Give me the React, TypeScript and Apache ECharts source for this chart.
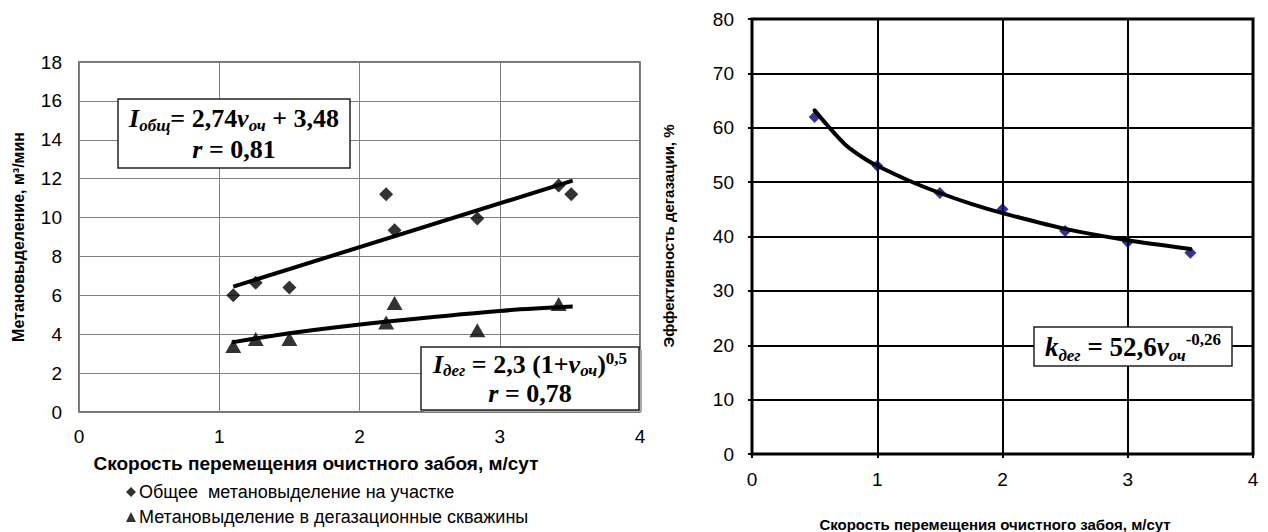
import React, { useEffect, useRef } from "react";
import * as echarts from "echarts";

// ---- Left chart data ----
const xTicksLeft = [0, 1, 2, 3, 4];
const totalName = "Общее  метановыделение на участке";
const degasName = "Метановыделение в дегазационные скважины";
const totalX = [1.1, 1.26, 1.5, 2.19, 2.25, 2.84, 3.42, 3.51];
const totalY = [6.0, 6.65, 6.4, 11.2, 9.35, 9.95, 11.65, 11.2];
const degasX = [1.1, 1.26, 1.5, 2.19, 2.25, 2.84, 3.42];
const degasY = [3.4, 3.75, 3.75, 4.6, 5.6, 4.2, 5.55];
const totalTrend = [
  [1.1, 6.45],
  [3.52, 11.9],
];
const degasTrend = [
  [1.09, 3.58],
  [1.5, 4.05],
  [2.2, 4.65],
  [3.0, 5.2],
  [3.52, 5.42],
];

// ---- Right chart data ----
const effX = [0.5, 1, 1.5, 2, 2.5, 3, 3.5];
const effY = [62, 53, 48, 45, 41, 39, 37];
const effTrend = [
  [0.5, 63.2],
  [0.6, 60.5],
  [0.75, 56.8],
  [0.9, 54.3],
  [1, 53.0],
  [1.25, 50.3],
  [1.5, 48.0],
  [1.75, 46.0],
  [2, 44.3],
  [2.5, 41.4],
  [3, 39.3],
  [3.5, 37.7],
];

const SANS = "'Liberation Sans', Arial, sans-serif";
const SERIF = "'Liberation Serif', 'Times New Roman', serif";

const zip = (xs: number[], ys: number[]) => xs.map((x, i) => [x, ys[i]]);

function richStyles(size: number, sub: number, lh: number) {
  const base = { fontFamily: SERIF, fontWeight: "bold", fill: "#000" };
  return {
    i: { ...base, fontSize: size, fontStyle: "italic", lineHeight: lh },
    b: { ...base, fontSize: size, lineHeight: lh },
    sub: { ...base, fontSize: sub, fontStyle: "italic", lineHeight: sub, verticalAlign: "bottom" },
    sup: { ...base, fontSize: sub, lineHeight: sub, verticalAlign: "top" },
  };
}

export default function App() {
  const ref = useRef<HTMLDivElement>(null);
  useEffect(() => {
    document.body.style.margin = "0";
    const chart = echarts.init(ref.current!, undefined, { renderer: "svg" });
    const option: any = {
      animation: false,
      backgroundColor: "#fff",
      grid: [
        { left: 79, top: 62, width: 561, height: 350, show: true, borderColor: "#444", borderWidth: 1.5, backgroundColor: "transparent" },
        { left: 752, top: 19, width: 501, height: 435, show: true, borderColor: "#000", borderWidth: 3, backgroundColor: "transparent" },
      ],
      xAxis: [
        {
          gridIndex: 0, type: "value", min: xTicksLeft[0], max: xTicksLeft[xTicksLeft.length - 1], interval: 1,
          axisLine: { show: false }, axisTick: { show: false },
          axisLabel: { color: "#000", fontSize: 19, fontFamily: SANS, margin: 15 },
          splitLine: { show: true, lineStyle: { color: "#808080", width: 1 } },
        },
        {
          gridIndex: 1, type: "value", min: 0, max: 4, interval: 1,
          axisLine: { show: false },
          axisTick: { show: true, length: 4, lineStyle: { color: "#000", width: 2 } },
          axisLabel: { color: "#000", fontSize: 19, fontFamily: SANS, margin: 16 },
          splitLine: { show: true, lineStyle: { color: "#000", width: 2 } },
        },
      ],
      yAxis: [
        {
          gridIndex: 0, type: "value", min: 0, max: 18, interval: 2,
          axisLine: { show: false }, axisTick: { show: false },
          axisLabel: { color: "#000", fontSize: 19, fontFamily: SANS, margin: 17 },
          splitLine: { show: true, lineStyle: { color: "#808080", width: 1 } },
        },
        {
          gridIndex: 1, type: "value", min: 0, max: 80, interval: 10,
          axisLine: { show: false },
          axisTick: { show: true, length: 4, lineStyle: { color: "#000", width: 2 } },
          axisLabel: { color: "#000", fontSize: 19, fontFamily: SANS, margin: 18 },
          splitLine: { show: true, lineStyle: { color: "#000", width: 2 } },
        },
      ],
      legend: {
        orient: "vertical",
        left: 126,
        top: 483,
        padding: 0,
        itemWidth: 10,
        itemHeight: 10,
        itemGap: 7,
        selectedMode: false,
        textStyle: { color: "#000", fontSize: 18, fontFamily: SANS, padding: [0, 0, 0, -2] },
        data: [
          { name: totalName, icon: "diamond" },
          { name: degasName, icon: "triangle" },
        ],
      },
      series: [
        {
          name: totalName, type: "scatter", xAxisIndex: 0, yAxisIndex: 0,
          symbol: "diamond", symbolSize: 14, itemStyle: { color: "#000" },
          data: zip(totalX, totalY), z: 3,
        },
        {
          name: degasName, type: "scatter", xAxisIndex: 0, yAxisIndex: 0,
          symbol: "triangle", symbolSize: [16, 14], itemStyle: { color: "#000" },
          data: zip(degasX, degasY), z: 3,
        },
        {
          name: "trend1", type: "line", xAxisIndex: 0, yAxisIndex: 0, showSymbol: false, symbol: "none",
          lineStyle: { color: "#000", width: 4 }, data: totalTrend, z: 4,
        },
        {
          name: "trend2", type: "line", xAxisIndex: 0, yAxisIndex: 0, showSymbol: false, symbol: "none", smooth: 0.3,
          lineStyle: { color: "#000", width: 4 }, data: degasTrend, z: 4,
        },
        {
          name: "eff", type: "scatter", xAxisIndex: 1, yAxisIndex: 1,
          symbol: "diamond", symbolSize: 12, itemStyle: { color: "#000080" },
          data: zip(effX, effY), z: 3,
        },
        {
          name: "effTrend", type: "line", xAxisIndex: 1, yAxisIndex: 1, showSymbol: false, symbol: "none",
          smooth: 0.25,
          lineStyle: { color: "#000", width: 4, join: "round", cap: "round" }, data: effTrend, z: 4,
        },
      ],
      graphic: [
        {
          type: "text", x: 316, y: 463, z: 50,
          style: { text: "Скорость перемещения очистного забоя, м/сут", fill: "#000", font: `bold 19px ${SANS}`, align: "center", verticalAlign: "middle" },
        },
        {
          type: "text", x: 18, y: 237, rotation: Math.PI / 2, z: 50,
          style: { text: "Метановыделение, м³/мин", fill: "#000", font: `bold 16px ${SANS}`, align: "center", verticalAlign: "middle" },
        },
        {
          type: "text", x: 995, y: 524, z: 50,
          style: { text: "Скорость перемещения очистного забоя, м/сут", fill: "#000", font: `bold 15px ${SANS}`, align: "center", verticalAlign: "middle" },
        },
        {
          type: "text", x: 668, y: 236, rotation: Math.PI / 2, z: 50,
          style: { text: "Эффективность дегазации, %", fill: "#000", font: `bold 15px ${SANS}`, align: "center", verticalAlign: "middle" },
        },
        // Box 1
        {
          type: "rect", z: 100, shape: { x: 118, y: 99, width: 232, height: 69 },
          style: { fill: "#fff", stroke: "#222", lineWidth: 1.5 },
        },
        {
          type: "text", z: 101, x: 234, y: 134,
          style: {
            text: "{i|I}{sub|общ}{b|= 2,74}{i|v}{sub|оч}{b| + 3,48}\n{i|r}{b| = 0,81}",
            align: "center", verticalAlign: "middle", rich: richStyles(26, 17, 31),
          },
        },
        // Box 2
        {
          type: "rect", z: 99, shape: { x: 424, y: 350, width: 218, height: 62 },
          style: { fill: "#aaa", stroke: "none" },
        },
        {
          type: "rect", z: 100, shape: { x: 421, y: 347, width: 218, height: 63 },
          style: { fill: "#fff", stroke: "#222", lineWidth: 1.5 },
        },
        {
          type: "text", z: 101, x: 530, y: 379,
          style: {
            text: "{i|I}{sub|дег}{b| = 2,3 (1+}{i|v}{sub|оч}{b|)}{sup|0,5}\n{i|r}{b| = 0,78}",
            align: "center", verticalAlign: "middle", rich: richStyles(26, 17, 29),
          },
        },
        // Box 3
        {
          type: "rect", z: 100, shape: { x: 1034, y: 327, width: 198, height: 39 },
          style: { fill: "#fff", stroke: "#222", lineWidth: 1.5 },
        },
        {
          type: "text", z: 101, x: 1133, y: 347,
          style: {
            text: "{i|k}{sub|дег}{b| = 52,6}{i|v}{sub|оч}{sup|-0,26}",
            align: "center", verticalAlign: "middle", rich: richStyles(27, 17, 33),
          },
        },
      ],
    };
    chart.setOption(option);
    return () => chart.dispose();
  }, []);
  return <div ref={ref} style={{ width: 1268, height: 532 }} />;
}
